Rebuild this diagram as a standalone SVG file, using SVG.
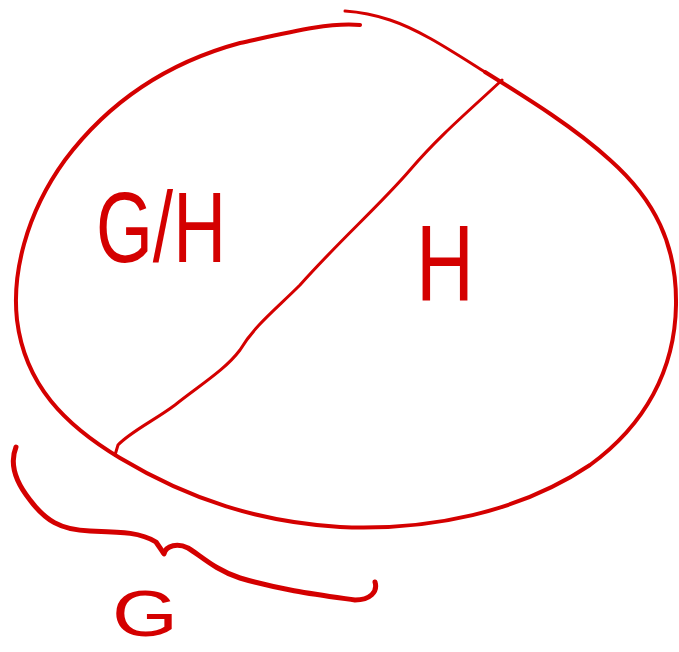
<svg xmlns="http://www.w3.org/2000/svg" width="679" height="652" viewBox="0 0 679 652">
<style>
.s{fill:none;stroke:#d40000;stroke-linecap:round;stroke-linejoin:round}
.t{fill:#d40000;font-family:"Liberation Sans","DejaVu Sans",sans-serif;font-weight:normal}
</style>
<rect width="679" height="652" fill="#fff"/>
<g id="circle">
<path class="s" stroke-width="4" d="M360,25 C330,22 290,32 240,43 C170,62 110,100 65,160 C25,215 12,275 17,320 C25,385 65,425 120,458 C190,500 260,522 340,527 C430,531 520,512 590,465 C645,425 675,370 676,305 C677,245 655,200 610,160 C575,128 530,100 485,72"/>
<path class="s" stroke-width="3" d="M485,72 C450,50 420,30 390,20 C375,15 360,12 345,11"/>
</g>
<g id="divider">
<path class="s" stroke-width="3" d="M502,80 C470,110 440,135 410,170 C380,205 340,240 300,285 C275,310 255,325 240,350 C225,370 200,385 175,405 C155,420 130,432 118,445 L115,455"/>
</g>
<g id="brace">
<path class="s" stroke-width="5" d="M16,447 C10,462 14,480 30,500 C45,520 60,530 90,531 C120,532 140,532 156,542 C160,548 163,552 164,554 C166,545 178,543 188,548 C200,555 215,570 240,578 C280,590 320,595 355,600 C370,600 378,592 375,582"/>
</g>
<g id="labels">
<text class="t" x="112" y="636" font-size="64" textLength="66" lengthAdjust="spacingAndGlyphs">G</text>
<text class="t" x="96" y="262" font-size="100" textLength="130" lengthAdjust="spacingAndGlyphs">G/H</text>
<text class="t" x="416" y="300" font-size="108" textLength="58" lengthAdjust="spacingAndGlyphs">H</text>
</g>
</svg>
